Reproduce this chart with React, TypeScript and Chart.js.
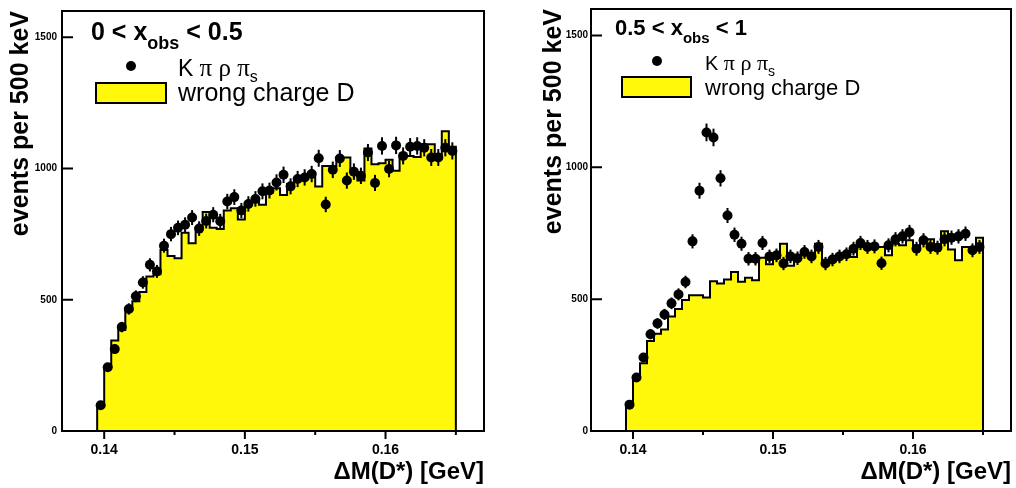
import React, { useEffect, useRef } from "react";
import { Chart, registerables } from "chart.js";
Chart.register(...registerables);

// Binning of the ΔM(D*) histograms (GeV)
const BIN_START = 0.1395;
const BIN_WIDTH = 0.0005;
const X_MIN = 0.137;
const X_MAX = 0.167;
const Y_MIN = 0;
const Y_MAX = 1600;
const X_TICKS = [0.14, 0.145, 0.15, 0.155, 0.16, 0.165];
const X_TICK_LABELS = ["0.14", "", "0.15", "", "0.16", ""];
const Y_TICKS = [0, 500, 1000, 1500];
const Y_TICK_LABELS = ["0", "500", "1000", "1500"];

// Panel 1: 0 < x_obs < 0.5
const lowWrongCharge = [
  102, 243, 345, 385, 460, 494, 530, 589, 597, 690, 667, 658, 755, 715, 774, 834, 774,
  770, 840, 849, 806, 862, 872, 862, 909, 925, 899, 941, 960, 972, 985, 931, 1010,
  1010, 1042, 1042, 988, 954, 1076, 1016, 1020, 1033, 991, 1048, 1048, 1044, 1092,
  1092, 1048, 1142, 1083,
];
const lowData = [
  98, 243, 312, 396, 465, 513, 566, 633, 608, 706, 750, 774, 786, 813, 771, 800, 824,
  799, 874, 891, 840, 865, 884, 913, 916, 947, 976, 932, 960, 966, 979, 1039, 863,
  995, 1038, 954, 988, 972, 1061, 945, 1086, 998, 1088, 1048, 1083, 1086, 1079, 1042,
  1042, 1079, 1067,
];

// Panel 2: 0.5 < x_obs < 1
const highWrongCharge = [
  100, 207, 257, 341, 369, 385, 434, 463, 497, 515, 515, 506, 568, 559, 574, 603, 566,
  581, 572, 657, 632, 657, 710, 627, 653, 679, 660, 710, 647, 653, 666, 660, 660, 698,
  698, 698, 698, 666, 710, 704, 723, 691, 729, 727, 698, 757, 688, 647, 698, 698, 733,
];
const highData = [
  100, 203, 279, 367, 408, 442, 484, 518, 565, 719, 911, 1132, 1113, 958, 817, 744, 710,
  653, 653, 713, 662, 666, 635, 662, 655, 679, 662, 698, 635, 650, 662, 670, 691, 713,
  698, 700, 636, 704, 727, 738, 754, 691, 723, 698, 695, 727, 733, 738, 748, 685, 698,
];

const X_TITLE = "\u0394M(D*) [GeV]";
const Y_TITLE = "events per 500 keV";
const DATA_LABEL = ["K", " \u03c0 \u03c1 \u03c0", "s"];
const MC_LABEL = "wrong charge D";

const YELLOW = "#fff80a";
const SANS = '"Liberation Sans", Arial, Helvetica, sans-serif';
const SERIF = '"Liberation Serif", "Times New Roman", serif';

type Legend = {
  title: [string, string, string];
  titleX: number;
  titleY: number;
  titleSize: number;
  dotX: number;
  dotY: number;
  textX: number;
  dataY: number;
  boxX: number;
  boxY: number;
  boxW: number;
  boxH: number;
  mcY: number;
  textSize: number;
};

type PanelCfg = {
  hist: number[];
  pts: number[];
  axisWidth: number;
  padRight: number;
  yTitlePad: number;
  yTickPad: number;
  legend: Legend;
};

function drawParts(
  ctx: CanvasRenderingContext2D,
  x: number,
  y: number,
  parts: { t: string; font: string; dy?: number }[]
) {
  let cx = x;
  for (const p of parts) {
    ctx.font = p.font;
    ctx.fillText(p.t, cx, y + (p.dy || 0));
    cx += ctx.measureText(p.t).width;
  }
}

function makePlugin(cfg: PanelCfg) {
  return {
    id: "rootDecor",
    afterDatasetsDraw(chart: any) {
      const ctx = chart.ctx as CanvasRenderingContext2D;
      const xs = chart.scales.x;
      const ys = chart.scales.y;
      ctx.save();
      ctx.strokeStyle = "#000";
      ctx.lineWidth = 2;
      cfg.pts.forEach((v, i) => {
        const x = xs.getPixelForValue(BIN_START + (i + 0.5) * BIN_WIDTH);
        const e = Math.sqrt(v);
        ctx.beginPath();
        ctx.moveTo(x, ys.getPixelForValue(v - e));
        ctx.lineTo(x, ys.getPixelForValue(v + e));
        ctx.stroke();
      });
      ctx.restore();
    },
    afterDraw(chart: any) {
      const ctx = chart.ctx as CanvasRenderingContext2D;
      const xs = chart.scales.x;
      const ys = chart.scales.y;
      const { left, right, top, bottom } = chart.chartArea;
      ctx.save();
      ctx.strokeStyle = "#000";
      ctx.lineWidth = 2;
      ctx.strokeRect(left, top, right - left, bottom - top);
      ctx.beginPath();
      Y_TICKS.forEach((v) => {
        const y = ys.getPixelForValue(v);
        ctx.moveTo(left, y);
        ctx.lineTo(left + 11, y);
      });
      X_TICKS.forEach((v, i) => {
        const x = xs.getPixelForValue(v);
        ctx.moveTo(x, bottom);
        ctx.lineTo(x, bottom + (X_TICK_LABELS[i] ? 8 : 4));
      });
      ctx.stroke();

      // legend
      const L = cfg.legend;
      ctx.fillStyle = "#000";
      ctx.textBaseline = "alphabetic";
      ctx.textAlign = "left";
      const ts = L.titleSize;
      drawParts(ctx, L.titleX, L.titleY, [
        { t: L.title[0], font: `bold ${ts}px ${SANS}` },
        { t: L.title[1], font: `bold ${Math.round(ts * 0.7)}px ${SANS}`, dy: ts * 0.35 },
        { t: L.title[2], font: `bold ${ts}px ${SANS}` },
      ]);
      ctx.beginPath();
      ctx.arc(L.dotX, L.dotY, 5, 0, Math.PI * 2);
      ctx.fill();
      const s = L.textSize;
      drawParts(ctx, L.textX, L.dataY, [
        { t: DATA_LABEL[0], font: `${s - 2}px ${SANS}` },
        { t: DATA_LABEL[1], font: `${s}px ${SERIF}` },
        { t: DATA_LABEL[2], font: `${Math.round(s * 0.65)}px ${SANS}`, dy: s * 0.25 },
      ]);
      ctx.fillStyle = YELLOW;
      ctx.fillRect(L.boxX, L.boxY, L.boxW, L.boxH);
      ctx.strokeRect(L.boxX, L.boxY, L.boxW, L.boxH);
      ctx.fillStyle = "#000";
      ctx.font = `${s}px ${SANS}`;
      ctx.fillText(MC_LABEL, L.textX, L.mcY);
      ctx.restore();
    },
  };
}

function Panel({ cfg, offset }: { cfg: PanelCfg; offset: number }) {
  const ref = useRef<HTMLCanvasElement | null>(null);
  useEffect(() => {
    if (!ref.current) return;
    const histPts: { x: number; y: number }[] = [{ x: BIN_START, y: 0 }];
    cfg.hist.forEach((v, i) => histPts.push({ x: BIN_START + i * BIN_WIDTH, y: v }));
    const n = cfg.hist.length;
    histPts.push({ x: BIN_START + n * BIN_WIDTH, y: cfg.hist[n - 1] });
    histPts.push({ x: BIN_START + n * BIN_WIDTH, y: 0 });
    const dataPts = cfg.pts.map((v, i) => ({ x: BIN_START + (i + 0.5) * BIN_WIDTH, y: v }));

    const chart = new Chart(ref.current, {
      type: "line",
      data: {
        datasets: [
          {
            type: "scatter",
            label: "data",
            data: dataPts,
            showLine: false,
            pointRadius: 5,
            pointBackgroundColor: "#000",
            pointBorderWidth: 0,
            order: 0,
          } as any,
          {
            label: MC_LABEL,
            data: histPts,
            stepped: "before",
            fill: "origin",
            backgroundColor: YELLOW,
            borderColor: "#000",
            borderWidth: 2,
            pointRadius: 0,
            order: 1,
          } as any,
        ],
      },
      options: {
        responsive: false,
        animation: false,
        events: [],
        layout: { padding: { top: 7, right: cfg.padRight, left: 0, bottom: 0 } },
        plugins: { legend: { display: false }, tooltip: { enabled: false } },
        scales: {
          x: {
            type: "linear",
            min: X_MIN,
            max: X_MAX,
            afterBuildTicks: (s: any) => {
              s.ticks = X_TICKS.map((v) => ({ value: v }));
            },
            afterFit: (s: any) => {
              s.height = 57;
            },
            grid: { display: false, drawTicks: false },
            border: { display: false },
            ticks: {
              autoSkip: false,
              maxRotation: 0,
              minRotation: 0,
              padding: 11,
              color: "#000",
              font: { family: SANS, size: 14, weight: "bold" },
              callback: (v: any) => {
                const i = X_TICKS.findIndex((t) => Math.abs(t - Number(v)) < 1e-9);
                return i >= 0 ? X_TICK_LABELS[i] : "";
              },
            },
            title: {
              display: true,
              text: X_TITLE,
              align: "end",
              color: "#000",
              font: { family: SANS, size: 24, weight: "bold" },
              padding: { top: 0, bottom: 1 },
            },
          },
          y: {
            type: "linear",
            min: Y_MIN,
            max: Y_MAX,
            afterBuildTicks: (s: any) => {
              s.ticks = Y_TICKS.map((v) => ({ value: v }));
            },
            afterFit: (s: any) => {
              s.width = cfg.axisWidth;
            },
            grid: { display: false, drawTicks: false },
            border: { display: false },
            ticks: {
              autoSkip: false,
              padding: cfg.yTickPad,
              color: "#000",
              font: { family: SANS, size: 10, weight: "bold" },
              callback: (v: any) => {
                const i = Y_TICKS.indexOf(Number(v));
                return i >= 0 ? Y_TICK_LABELS[i] : "";
              },
            },
            title: {
              display: true,
              text: Y_TITLE,
              align: "end",
              color: "#000",
              font: { family: SANS, size: 25, weight: "bold" },
              padding: { top: cfg.yTitlePad, bottom: 0 },
            },
          },
        },
      },
      plugins: [makePlugin(cfg)],
    } as any);
    return () => chart.destroy();
  }, [cfg]);
  return (
    <canvas
      ref={ref}
      width={508}
      height={488}
      style={{ position: "absolute", left: offset, top: 0, width: 508, height: 488 }}
    />
  );
}

const LOW_CFG: PanelCfg = {
  hist: lowWrongCharge,
  pts: lowData,
  axisWidth: 62,
  padRight: 24,
  yTitlePad: 6,
  yTickPad: 5,
  legend: {
    title: ["0 < x", "obs", " < 0.5"],
    titleX: 91,
    titleY: 40,
    titleSize: 25,
    dotX: 131,
    dotY: 66,
    textX: 178,
    dataY: 76,
    boxX: 96,
    boxY: 83,
    boxW: 70,
    boxH: 20,
    mcY: 101,
    textSize: 25,
  },
};

const HIGH_CFG: PanelCfg = {
  hist: highWrongCharge,
  pts: highData,
  axisWidth: 83,
  padRight: 2,
  yTitlePad: 31,
  yTickPad: 3,
  legend: {
    title: ["0.5 < x", "obs", " < 1"],
    titleX: 107,
    titleY: 35,
    titleSize: 22,
    dotX: 149,
    dotY: 61,
    textX: 197,
    dataY: 70,
    boxX: 114,
    boxY: 77,
    boxW: 69,
    boxH: 20,
    mcY: 95,
    textSize: 22,
  },
};

export default function App() {
  return (
    <div
      style={{
        position: "fixed",
        left: 0,
        top: 0,
        width: 1016,
        height: 488,
        background: "#fff",
        overflow: "hidden",
      }}
    >
      <Panel cfg={LOW_CFG} offset={0} />
      <Panel cfg={HIGH_CFG} offset={508} />
    </div>
  );
}
